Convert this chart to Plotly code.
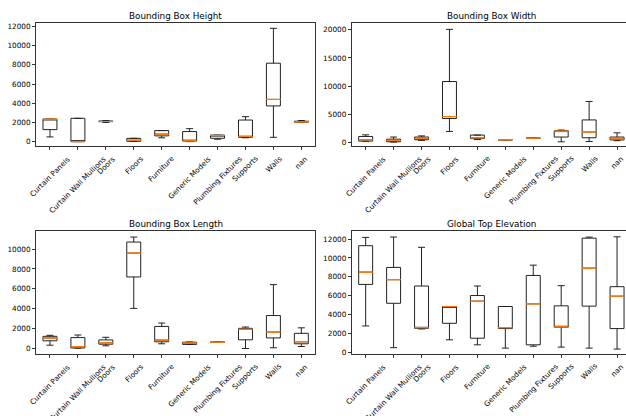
import plotly.graph_objects as go

categories = ["Curtain Panels", "Curtain Wall Mullions", "Doors", "Floors", "Furniture",
              "Generic Models", "Plumbing Fixtures", "Supports", "Walls", "nan"]

# Bounding Box Height
height_lf  = [490, 0, 2000, 20, 400, 0, 250, 400, 450, 2000]
height_q1  = [1250, 0, 2080, 40, 600, 50, 350, 450, 3720, 2030]
height_med = [2340, 0, 2100, 140, 780, 80, 650, 550, 4400, 2050]
height_q3  = [2360, 2430, 2150, 340, 1150, 1050, 680, 2250, 8170, 2130]
height_uf  = [2360, 2430, 2200, 350, 1150, 1350, 680, 2600, 11800, 2200]

# Bounding Box Width
width_lf  = [150, 0, 300, 1900, 450, 380, 680, 50, 100, 250]
width_q1  = [180, 60, 420, 4200, 620, 400, 690, 900, 770, 380]
width_med = [410, 280, 650, 4550, 760, 410, 700, 1950, 1800, 600]
width_q3  = [1000, 520, 900, 10800, 1250, 420, 720, 2050, 3950, 900]
width_uf  = [1290, 900, 1100, 20100, 1250, 430, 730, 2150, 7250, 1650]

# Bounding Box Length
length_lf  = [360, 60, 300, 4050, 500, 430, 640, 30, 100, 230]
length_q1  = [800, 80, 460, 7200, 700, 440, 650, 900, 1090, 500]
length_med = [1080, 200, 600, 9600, 870, 580, 660, 1950, 1680, 700]
length_q3  = [1250, 1120, 890, 10700, 2240, 660, 670, 2050, 3330, 1550]
length_uf  = [1350, 1380, 1150, 11200, 2580, 680, 680, 2180, 6430, 2100]

# Global Top Elevation
elev_lf  = [2800, 500, 2480, 1330, 800, 450, 650, 560, 450, 350]
elev_q1  = [7200, 5200, 2550, 3080, 1500, 2520, 800, 2660, 4900, 2520]
elev_med = [8500, 7700, 2620, 4850, 5420, 2620, 5140, 2700, 8920, 5950]
elev_q3  = [11300, 9000, 7030, 4860, 6020, 4860, 8150, 4930, 12100, 6960]
elev_uf  = [12180, 12220, 11130, 4860, 7030, 4860, 9240, 7070, 12210, 12240]

titles = ["Bounding Box Height", "Bounding Box Width", "Bounding Box Length", "Global Top Elevation"]
y_ranges = [[-485, 12306], [-750, 21150], [-550, 11800], [-200, 12850]]
y_dticks = [2000, 5000, 2000, 2000]

panels = [
    (height_lf, height_q1, height_med, height_q3, height_uf),
    (width_lf, width_q1, width_med, width_q3, width_uf),
    (length_lf, length_q1, length_med, length_q3, length_uf),
    (elev_lf, elev_q1, elev_med, elev_q3, elev_uf),
]

W, H = 626, 416
positions = list(range(1, len(categories) + 1))

x_domains = [[36 / W, 315.3 / W], [351.7 / W, 1.0], [36 / W, 315.3 / W], [351.7 / W, 1.0]]
y_domains = [[1 - 146.7 / H, 1 - 22.7 / H], [1 - 146.7 / H, 1 - 22.7 / H],
             [1 - 356.7 / H, 1 - 232.3 / H], [1 - 356.7 / H, 1 - 232.3 / H]]
x_ranges = [[0.5, 10.5], [0.5, 10.32], [0.5, 10.5], [0.5, 10.32]]
title_pos = [(175.6 / W, 1 - 15 / H), (491.3 / W, 1 - 15 / H),
             (175.6 / W, 1 - 225 / H), (491.3 / W, 1 - 225 / H)]

FONT = "DejaVu Sans"
fig = go.Figure()
annotations = []

for i, (lf, q1, med, q3, uf) in enumerate(panels):
    xa = "x" if i == 0 else f"x{i+1}"
    ya = "y" if i == 0 else f"y{i+1}"
    fig.add_trace(go.Box(
        x=positions, q1=q1, median=med, q3=q3, lowerfence=lf, upperfence=uf,
        orientation="v", width=0.5, whiskerwidth=0.5,
        line=dict(color="#222222", width=1), fillcolor="rgba(0,0,0,0)",
        boxpoints=False, xaxis=xa, yaxis=ya, showlegend=False, hoverinfo="skip",
    ))
    fig.add_trace(go.Box(
        x=positions, q1=med, median=med, q3=med, lowerfence=med, upperfence=med,
        orientation="v", width=0.5, whiskerwidth=0,
        line=dict(color="#ff7f0e", width=0.8), fillcolor="rgba(0,0,0,0)",
        boxpoints=False, xaxis=xa, yaxis=ya, showlegend=False, hoverinfo="skip",
    ))
    right = i in (1, 3)
    axis_common = dict(showgrid=False, zeroline=False, showline=True,
                       linecolor="#333333", linewidth=0.8,
                       ticks="outside", ticklen=3, tickwidth=0.8, tickcolor="#333333",
                       tickfont=dict(family=FONT, size=7.3, color="#000000"))
    xkey = "xaxis" if i == 0 else f"xaxis{i+1}"
    ykey = "yaxis" if i == 0 else f"yaxis{i+1}"
    fig.layout[xkey] = dict(axis_common, domain=x_domains[i], range=x_ranges[i],
                            anchor=ya, tickvals=positions, showticklabels=False,
                            mirror=True)
    fig.layout[ykey] = dict(axis_common, domain=y_domains[i], range=y_ranges[i],
                            anchor=xa, tick0=0, dtick=y_dticks[i], tickformat="d",
                            mirror=(not right))
    annotations.append(dict(text=titles[i], x=title_pos[i][0], y=title_pos[i][1],
                            xref="paper", yref="paper", xanchor="center", yanchor="middle",
                            showarrow=False, font=dict(family=FONT, size=8.8, color="#000000")))
    for p, c in zip(positions, categories):
        annotations.append(dict(text=c, x=p, y=0, xref=xa, yref=f"{ya} domain",
                                xanchor="center", yanchor="top", yshift=-5,
                                textangle=-45, showarrow=False,
                                font=dict(family=FONT, size=7.3, color="#000000")))

fig.update_layout(
    width=W, height=H, autosize=False,
    margin=dict(l=0, r=0, t=0, b=0),
    paper_bgcolor="white", plot_bgcolor="white",
    boxmode="overlay",
    annotations=annotations,
    font=dict(family=FONT),
)

fig.write_html("out.html")
